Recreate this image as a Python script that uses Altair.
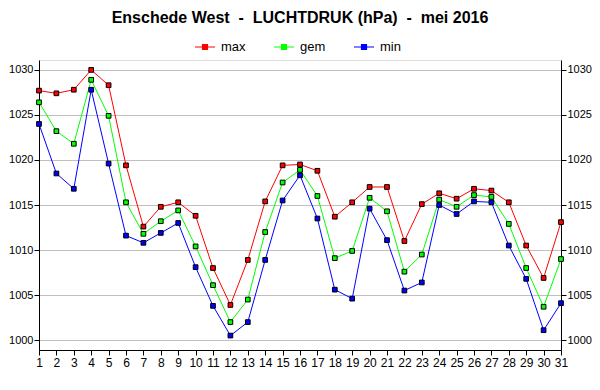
import altair as alt
import pandas as pd

days = list(range(1, 32))
max_vals = [1027.7, 1027.4, 1027.8, 1030.0, 1028.3, 1019.4, 1012.6, 1014.8, 1015.3, 1013.8,
            1008.0, 1003.9, 1008.9, 1015.4, 1019.4, 1019.5, 1018.8, 1013.7, 1015.3, 1017.0,
            1017.0, 1011.0, 1015.1, 1016.3, 1015.7, 1016.8, 1016.6, 1015.3, 1010.5, 1006.9, 1013.1]
gem_vals = [1026.4, 1023.2, 1021.8, 1028.9, 1024.9, 1015.3, 1011.8, 1013.2, 1014.4, 1010.4,
            1006.1, 1002.0, 1004.5, 1012.0, 1017.5, 1018.9, 1016.0, 1009.1, 1009.9, 1015.8,
            1014.3, 1007.6, 1009.5, 1015.6, 1014.8, 1016.1, 1015.9, 1012.9, 1008.0, 1003.7, 1009.0]
min_vals = [1024.0, 1018.5, 1016.8, 1027.8, 1019.6, 1011.6, 1010.8, 1011.9, 1013.0, 1008.1,
            1003.8, 1000.5, 1002.0, 1008.9, 1015.5, 1018.3, 1013.5, 1005.6, 1004.6, 1014.6,
            1011.1, 1005.5, 1006.4, 1015.0, 1014.0, 1015.4, 1015.3, 1010.5, 1006.8, 1001.1, 1004.1]

series = ["max", "gem", "min"]
colors = ["#ff0000", "#00ff00", "#0000ff"]
y_ticks = [1000, 1005, 1010, 1015, 1020, 1025, 1030]

rows = []
for name, vals in zip(series, [max_vals, gem_vals, min_vals]):
    for d, v in zip(days, vals):
        rows.append({"dag": d, "waarde": v, "reeks": name})
df = pd.DataFrame(rows)

FONT = "Liberation Sans"

x = alt.X("dag:Q",
          scale=alt.Scale(domain=[1, 31], nice=False, zero=False),
          axis=alt.Axis(values=days, title=None, grid=False, domainColor="black",
                        tickColor="black", tickSize=5, labelFontSize=12, labelColor="black",
                        labelFont=FONT, labelPadding=2, labelFlush=False, labelOverlap=False,
                        format="d"))
yscale = alt.Scale(domain=[998.9, 1031.1], nice=False, zero=False)
color = alt.Color("reeks:N",
                  scale=alt.Scale(domain=series, range=colors),
                  sort=series,
                  legend=alt.Legend(title=None, orient="none", direction="horizontal",
                                    legendX=155, legendY=-24,
                                    symbolType="M-1,0H1M-0.25,-0.25H0.25V0.25H-0.25Z",
                                    symbolSize=400, symbolStrokeWidth=1.2,
                                    labelFontSize=13, labelFont=FONT, labelColor="black",
                                    labelOffset=5, columnPadding=25, padding=0))

base = alt.Chart(df)

lines = base.mark_line(strokeWidth=1).encode(
    x=x,
    y=alt.Y("waarde:Q", scale=yscale,
            axis=alt.Axis(values=y_ticks, title=None, grid=True, gridColor="#c0c0c0",
                          gridWidth=1, domainColor="black", tickColor="black", tickSize=5,
                          labelFontSize=11, labelFont=FONT, labelColor="black",
                          labelPadding=1, format="d")),
    color=color,
    detail="reeks:N",
)

points = base.mark_point(shape="square", filled=True, size=22, stroke="black",
                         strokeWidth=1, opacity=1).encode(
    x=x,
    y=alt.Y("waarde:Q", scale=yscale, axis=None),
    fill=alt.Fill("reeks:N", scale=alt.Scale(domain=series, range=colors), legend=None),
)

right_axis = base.mark_point(opacity=0).encode(
    y=alt.Y("waarde:Q", scale=yscale,
            axis=alt.Axis(values=y_ticks, title=None, orient="right", grid=False,
                          domainColor="black", tickColor="black", tickSize=5,
                          labelFontSize=11, labelFont=FONT, labelColor="black",
                          labelPadding=1, format="d")),
)

chart = alt.layer(lines, points, right_axis).resolve_scale(y="shared").resolve_axis(y="independent").properties(
    width=522, height=290,
    autosize=alt.AutoSizeParams(type="none"),
    padding={"left": 31, "top": 52, "right": 31, "bottom": 32},
    title=alt.TitleParams("Enschede West\u00a0 -\u00a0 LUCHTDRUK (hPa)\u00a0 -\u00a0 mei 2016",
                          font=FONT, fontSize=16, fontWeight="bold", color="black",
                          anchor="middle", offset=10),
).configure_view(stroke="black", strokeWidth=1).configure(background="white")

chart.save("out.html", embed_options={"renderer": "svg", "actions": False})
